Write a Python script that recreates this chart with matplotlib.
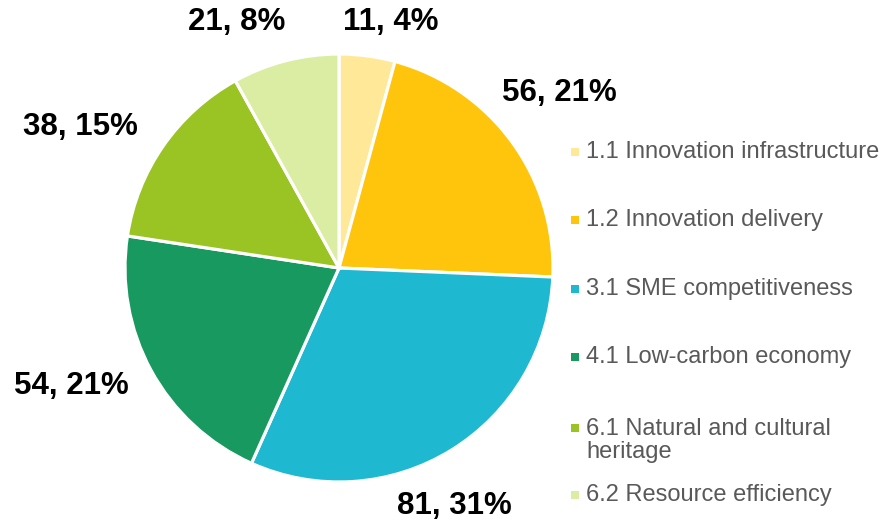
import matplotlib.pyplot as plt
from matplotlib.patches import Rectangle

plt.rcParams["font.family"] = ["Liberation Sans", "DejaVu Sans"]

categories = [
    "1.1 Innovation infrastructure",
    "1.2 Innovation delivery",
    "3.1 SME competitiveness",
    "4.1 Low-carbon economy",
    "6.1 Natural and cultural\nheritage",
    "6.2 Resource efficiency",
]
values = [11, 56, 81, 54, 38, 21]
colors = ["#FFE999", "#FFC50D", "#1FB8D1", "#179960", "#9AC423", "#DAEDA2"]

# label centres in pie units (radius = 1), layout only
label_pos = [(0.24, 1.15), (1.03, 0.82), (0.54, -1.11),
             (-1.25, -0.55), (-1.21, 0.66), (-0.48, 1.15)]
# legend rows: y of first text line centre in figure pixels (from top)
legend_y = [152, 220, 289, 357, 428, 495]
line_h = 25

W, H = 885, 526
fig = plt.figure(figsize=(W / 100, H / 100), dpi=100)
cx, cy, r = 339, 268, 214
ax = fig.add_axes([(cx - r) / W, (H - cy - r) / H, 2 * r / W, 2 * r / H])

ax.pie(values, colors=colors, startangle=90, counterclock=False, radius=1,
       wedgeprops=dict(edgecolor="white", linewidth=2.3))
ax.set_xlim(-1, 1)
ax.set_ylim(-1, 1)
ax.set_aspect("equal")
ax.axis("off")

total = sum(values)
for v, (x, y) in zip(values, label_pos):
    ax.text(x, y, f"{v}, {round(100 * v / total)}%", ha="center", va="center",
            fontsize=22.5, fontweight="bold", color="black", clip_on=False)

for lab, col, y in zip(categories, colors, legend_y):
    nl = lab.count("\n")
    fy = (H - y) / H
    fig.patches.append(Rectangle((571 / W, fy - 4 / H), 8 / W, 8 / H,
                                 facecolor=col, edgecolor="none",
                                 transform=fig.transFigure))
    fig.text(586 / W, (H - y - nl * line_h / 2) / H, lab, ha="left",
             va="center", fontsize=17, color="#595959", linespacing=1.05)

fig.savefig("out.png", dpi=100)
